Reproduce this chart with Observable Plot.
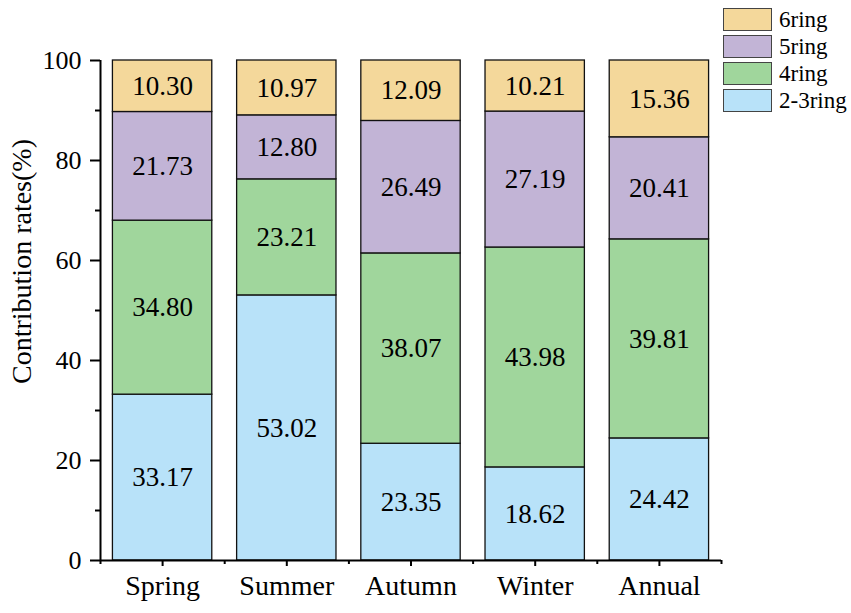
<!DOCTYPE html>
<html>
<head>
<meta charset="utf-8">
<script src="https://cdn.jsdelivr.net/npm/d3@7"></script>
<script src="https://cdn.jsdelivr.net/npm/@observablehq/plot@0.6"></script>
<style>
  body { margin: 0; background: #fff; }
  #wrap { position: relative; width: 851px; height: 613px; font-family: "Liberation Serif", "Noto Serif", "DejaVu Serif", FreeSerif, "Nimbus Roman", Times, serif; }
  #wrap svg text { font-family: "Liberation Serif", "Noto Serif", "DejaVu Serif", FreeSerif, "Nimbus Roman", Times, serif; }
  #legend { position: absolute; left: 723px; top: 8px; }
  .item { display: flex; align-items: center; height: 23px; margin-bottom: 4px; }
  .sw { width: 49px; height: 23px; border: 1px solid #444; box-sizing: border-box; margin-right: 7px; }
  .lb { font-size: 23px; line-height: 23px; color: #000; }
</style>
</head>
<body>
<div id="wrap"><div id="legend"></div></div>
<script>
const categories = ["Spring", "Summer", "Autumn", "Winter", "Annual"];
const rings = ["2-3ring", "4ring", "5ring", "6ring"];
const ring23 = [33.17, 53.02, 23.35, 18.62, 24.42];
const ring4 = [34.80, 23.21, 38.07, 43.98, 39.81];
const ring5 = [21.73, 12.80, 26.49, 27.19, 20.41];
const ring6 = [10.30, 10.97, 12.09, 10.21, 15.36];
const colors = ["#b8e2f9", "#a0d69c", "#c2b4d6", "#f4d89b"];
const yTicks = [0, 20, 40, 60, 80, 100];
const yMinor = [10, 30, 50, 70, 90];
const yTitle = "Contribution rates(%)";

const series = [ring23, ring4, ring5, ring6];
const table = [];
categories.forEach((c, i) => {
  let acc = 0;
  series.forEach((s, k) => {
    table.push({i, category: c, ring: rings[k], value: s[i], y1: acc, y2: acc + s[i]});
    acc += s[i];
  });
});
const idx = d3.range(categories.length);
const xMinor = d3.range(categories.length + 1).map(k => k - 0.5);

const chart = Plot.plot({
  width: 851, height: 613,
  marginLeft: 100, marginRight: 130, marginTop: 60, marginBottom: 53,
  x: {domain: [-0.5, categories.length - 0.5]},
  y: {domain: [0, 100]},
  color: {domain: rings, range: colors},
  style: {fontSize: "25px", color: "#000", background: "white"},
  marks: [
    Plot.rect(table, {x1: d => d.i - 0.4, x2: d => d.i + 0.4, y1: "y1", y2: "y2", fill: "ring", stroke: "#111", strokeWidth: 1.3}),
    Plot.text(table, {x: "i", y: d => (d.y1 + d.y2) / 2, text: d => d.value.toFixed(2), fontSize: 27, fill: "#000"}),
    Plot.axisY(yTicks, {tickSize: 10, tickPadding: 9, fontSize: 26, strokeWidth: 2, label: null}),
    Plot.axisY(yMinor, {tickSize: 5, strokeWidth: 2, tickFormat: () => "", label: null}),
    Plot.text([yTitle], {frameAnchor: "left", textAnchor: "middle", lineAnchor: "middle", dx: -78, dy: -49, rotate: -90, fontSize: 28, fill: "#000"}),
    Plot.axisX(idx, {tickSize: 6, tickPadding: 9, strokeWidth: 2, fontSize: 28, tickFormat: i => categories[i], label: null}),
    Plot.axisX(xMinor, {tickSize: 4, strokeWidth: 2, tickFormat: () => "", label: null}),
    Plot.ruleX([-0.5], {strokeWidth: 2}),
    Plot.ruleY([0], {strokeWidth: 2})
  ]
});
document.getElementById("wrap").prepend(chart);

const legend = document.getElementById("legend");
[...rings].reverse().forEach(r => {
  const item = document.createElement("div");
  item.className = "item";
  const sw = document.createElement("div");
  sw.className = "sw";
  sw.style.background = colors[rings.indexOf(r)];
  const lb = document.createElement("span");
  lb.className = "lb";
  lb.textContent = r;
  item.append(sw, lb);
  legend.append(item);
});
</script>
</body>
</html>
